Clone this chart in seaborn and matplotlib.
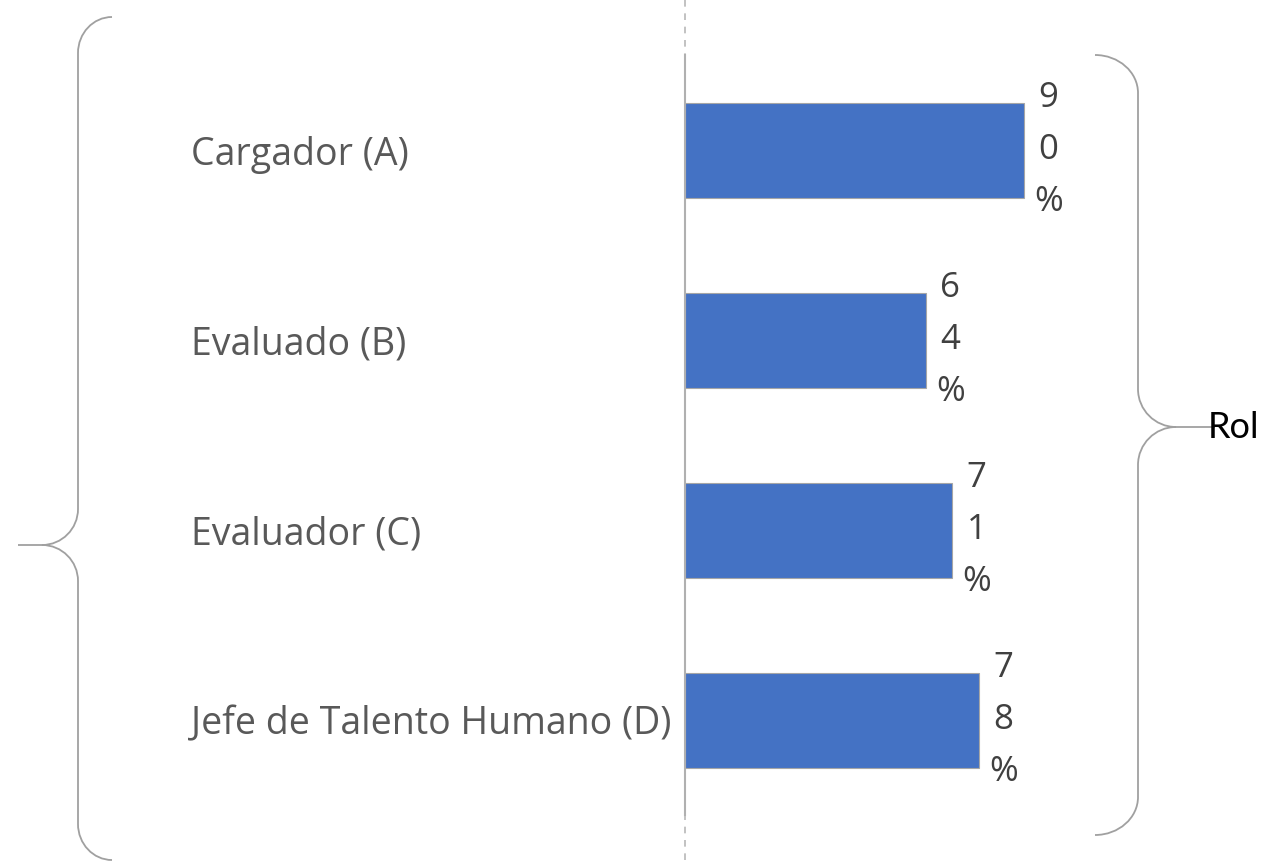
import pandas as pd
import seaborn as sns
import matplotlib.pyplot as plt
from matplotlib.path import Path
from matplotlib.patches import PathPatch

# Data
roles = ["Cargador (A)", "Evaluado (B)", "Evaluador (C)", "Jefe de Talento Humano (D)"]
pcts = [90, 64, 71, 78]
group_label = "Rol"

df = pd.DataFrame({"rol": roles, "pct": pcts})

sns.set_theme(style="white")
plt.rcParams["font.family"] = ["Open Sans", "DejaVu Sans"]

W, H = 1263, 866
fig = plt.figure(figsize=(W / 100, H / 100), dpi=100)

# main bar axes (pixel placement)
left_px, top_px, bottom_px = 685, 55, 815
ax = fig.add_axes([left_px / W, (H - bottom_px) / H, 376.7 / W, (bottom_px - top_px) / H])

sns.barplot(data=df, x="pct", y="rol", color="#4472C4", width=0.5,
            edgecolor="#a6a6a6", linewidth=0.8, saturation=1, ax=ax)
ax.set_xlim(0, 100)
ax.set_xlabel("")
ax.set_ylabel("")
ax.set_xticks([])
for s in ["top", "right", "bottom"]:
    ax.spines[s].set_visible(False)
ax.spines["left"].set_color("#b0b0b0")
ax.spines["left"].set_linewidth(1.5)

ax.tick_params(axis="y", length=0, pad=356, labelsize=27, labelcolor="#595959")
for lab in ax.get_yticklabels():
    lab.set_horizontalalignment("left")

# stacked value labels
for i, v in enumerate(pcts):
    txt = "\n".join(list(f"{v}%"))
    ax.annotate(txt, xy=(v, i), xytext=(17.5, 0), textcoords="offset points",
                ha="center", va="center", fontsize=25, color="#404040",
                linespacing=1.7)

# overlay in pixel coordinates for braces and dashed guide
ov = fig.add_axes([0, 0, 1, 1], zorder=-1)
ov.set_xlim(0, W)
ov.set_ylim(H, 0)
ov.axis("off")
ov.plot([685, 685], [0, H], ls=(0, (4, 4)), color="#b8b8b8", lw=1.2)

K = 0.552


def brace(ax_, x_tip, y_tip, x_line, x_end, y_top, y_bot, r):
    d = 1 if x_line > x_tip else -1  # +1: tip points left
    rx = abs(x_end - x_line)
    sx = 1 if x_end > x_line else -1
    verts = [
        (x_end, y_top),
        (x_line + sx * rx * (1 - K), y_top), (x_line, y_top + r * (1 - K)), (x_line, y_top + r),
        (x_line, y_tip - r),
        (x_line, y_tip - r * (1 - K)), (x_line - d * r * (1 - K), y_tip), (x_line - d * r, y_tip),
        (x_tip, y_tip),
        (x_line - d * r, y_tip),
        (x_line - d * r * (1 - K), y_tip), (x_line, y_tip + r * (1 - K)), (x_line, y_tip + r),
        (x_line, y_bot - r),
        (x_line, y_bot - r * (1 - K)), (x_line + sx * rx * (1 - K), y_bot), (x_end, y_bot),
    ]
    codes = [Path.MOVETO,
             Path.CURVE4, Path.CURVE4, Path.CURVE4,
             Path.LINETO,
             Path.CURVE4, Path.CURVE4, Path.CURVE4,
             Path.LINETO,
             Path.MOVETO,
             Path.CURVE4, Path.CURVE4, Path.CURVE4,
             Path.LINETO,
             Path.CURVE4, Path.CURVE4, Path.CURVE4]
    ax_.add_patch(PathPatch(Path(verts, codes), fill=False, ec="#a0a0a0", lw=1.3))


brace(ov, 18, 545, 78, 112, 17, 860, 36)
brace(ov, 1215, 427, 1138, 1095, 55, 835, 38)
ov.text(1208, 427, group_label, ha="left", va="center", fontsize=26,
        color="black", family=["Lato", "DejaVu Sans"])

fig.savefig("out.png", dpi=100)
